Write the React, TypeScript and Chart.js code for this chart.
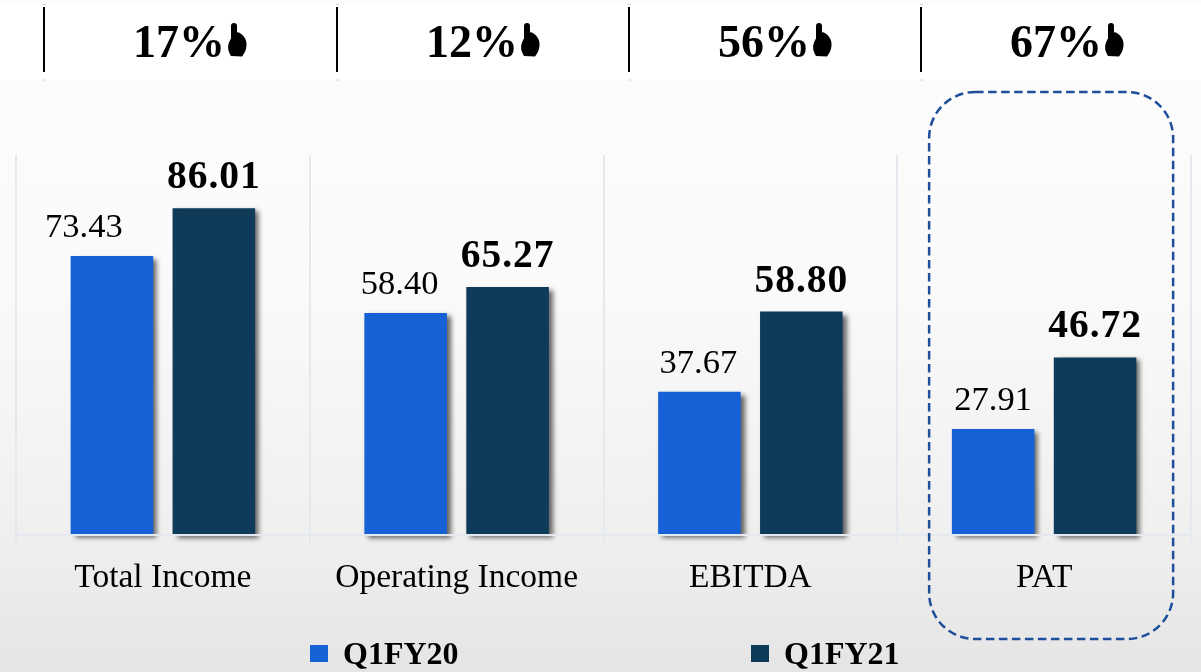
import React, { useEffect, useRef } from "react";
import { Chart, registerables } from "chart.js";

Chart.register(...registerables);

const categories = ["Total Income", "Operating Income", "EBITDA", "PAT"];
const q1fy20 = [73.43, 58.4, 37.67, 27.91];
const q1fy21 = [86.01, 65.27, 58.8, 46.72];
const growth = ["17%", "12%", "56%", "67%"];
const seriesNames = ["Q1FY20", "Q1FY21"];
const seriesColors = ["#1661d6", "#0e3b5a"];

const W = 1201;
const H = 672;
const SERIF = "'Liberation Serif', serif";
const dividerX = [44, 337, 629, 921];
const legendX = [310, 751];
const blueLabelShift = [-28, -6, -1, 0];

function drawHand(ctx: CanvasRenderingContext2D, x: number, y: number) {
  ctx.save();
  ctx.fillStyle = "#000";
  ctx.beginPath();
  ctx.roundRect(x + 4, y, 6, 20, 3);
  ctx.fill();
  ctx.beginPath();
  ctx.moveTo(x + 4, y + 33);
  ctx.bezierCurveTo(x + 1, y + 28, x - 1, y + 22, x + 5, y + 14);
  ctx.lineTo(x + 11, y + 9);
  ctx.bezierCurveTo(x + 17, y + 12, x + 20, y + 17, x + 19.5, y + 22);
  ctx.bezierCurveTo(x + 19.5, y + 27, x + 17, y + 31, x + 15, y + 33.5);
  ctx.closePath();
  ctx.fill();
  ctx.restore();
}

const backgroundPlugin = {
  id: "pageBackground",
  beforeDraw(chart: any) {
    const { ctx } = chart;
    ctx.save();
    const g = ctx.createLinearGradient(0, 80, 0, H);
    g.addColorStop(0, "#fcfcfc");
    g.addColorStop(0.35, "#fafafa");
    g.addColorStop(0.75, "#f0f0f0");
    g.addColorStop(1, "#e5e5e5");
    ctx.fillStyle = g;
    ctx.fillRect(0, 0, W, H);
    ctx.fillStyle = "#ffffff";
    ctx.fillRect(0, 4, W, 76);
    ctx.restore();
  },
};

const shadowPlugin = {
  id: "barShadow",
  beforeDatasetsDraw(chart: any) {
    const { ctx } = chart;
    ctx.save();
    ctx.shadowColor = "rgba(0,0,0,0.6)";
    ctx.shadowBlur = 5;
    ctx.shadowOffsetX = 4;
    ctx.shadowOffsetY = 3;
  },
  afterDatasetsDraw(chart: any) {
    chart.ctx.restore();
  },
};

const annotationPlugin = {
  id: "annotations",
  afterDraw(chart: any) {
    const { ctx } = chart;
    ctx.save();

    // value labels
    ctx.textAlign = "center";
    ctx.textBaseline = "alphabetic";
    ctx.fillStyle = "#000";
    chart.data.datasets.forEach((ds: any, d: number) => {
      const meta = chart.getDatasetMeta(d);
      meta.data.forEach((bar: any, i: number) => {
        if (d === 0) {
          ctx.font = `400 34.5px ${SERIF}`;
          (ctx as any).letterSpacing = "0px";
          ctx.fillText(ds.data[i].toFixed(2), bar.x + blueLabelShift[i], bar.y - 19);
        } else {
          ctx.font = `700 39.5px ${SERIF}`;
          (ctx as any).letterSpacing = "1px";
          ctx.fillText(ds.data[i].toFixed(2), bar.x, bar.y - 20);
        }
      });
    });
    (ctx as any).letterSpacing = "0px";

    // growth header
    growth.forEach((text, i) => {
      const x = dividerX[i];
      ctx.strokeStyle = "#000";
      ctx.lineWidth = 2;
      ctx.beginPath();
      ctx.moveTo(x, 7);
      ctx.lineTo(x, 72);
      ctx.stroke();
      ctx.strokeStyle = "#d0d0d0";
      ctx.lineWidth = 1;
      ctx.beginPath();
      ctx.moveTo(x - 1, 80);
      ctx.lineTo(x + 2, 80);
      ctx.moveTo(x - 1, 4.5);
      ctx.lineTo(x + 2, 4.5);
      ctx.stroke();
      ctx.font = `700 46px ${SERIF}`;
      ctx.textAlign = "left";
      ctx.fillStyle = "#000";
      ctx.fillText(text, x + 89, 57);
      drawHand(ctx, x + 183, 23);
    });

    // highlight box
    const pat = chart.scales.x.getPixelForValue(3);
    ctx.strokeStyle = "#1f4e9a";
    ctx.lineWidth = 2.5;
    ctx.setLineDash([8.5, 4.5]);
    ctx.beginPath();
    ctx.roundRect(pat - 115, 92, 244, 547, 46);
    ctx.stroke();
    ctx.setLineDash([]);

    // legend
    ctx.textAlign = "left";
    seriesNames.forEach((name, i) => {
      ctx.fillStyle = seriesColors[i];
      ctx.fillRect(legendX[i], 645, 18, 17);
      ctx.fillStyle = "#000";
      ctx.font = `700 32px ${SERIF}`;
      ctx.fillText(name, legendX[i] + 33, 664);
    });
    ctx.restore();
  },
};

export default function App() {
  const ref = useRef<HTMLCanvasElement>(null);

  useEffect(() => {
    document.body.style.margin = "0";
    document.body.style.background = "#fff";
    const chart = new Chart(ref.current!, {
      type: "bar",
      data: {
        labels: categories,
        datasets: [
          { label: seriesNames[0], data: q1fy20, backgroundColor: seriesColors[0], clip: false as any },
          { label: seriesNames[1], data: q1fy21, backgroundColor: seriesColors[1], clip: false as any },
        ],
      },
      options: {
        responsive: false,
        animation: false,
        devicePixelRatio: 1,
        layout: { padding: { left: 16, right: 10, top: 155, bottom: 0 } },
        plugins: { legend: { display: false }, tooltip: { enabled: false } },
        datasets: { bar: { categoryPercentage: 0.694, barPercentage: 0.81 } },
        scales: {
          x: {
            afterFit(scale: any) {
              scale.height = H - 535;
            },
            grid: { color: "#e4e8ef", lineWidth: 2, tickLength: 8, z: 1 },
            border: { color: "#e4e8ef", width: 2, z: 1 },
            ticks: {
              color: "#000",
              padding: 15,
              maxRotation: 0,
              font: { family: SERIF, size: 33.5 },
            },
          },
          y: { display: false, min: 0, max: 100 },
        },
      } as any,
      plugins: [backgroundPlugin, shadowPlugin, annotationPlugin],
    });
    return () => chart.destroy();
  }, []);

  return <canvas ref={ref} width={W} height={H} style={{ display: "block" }} />;
}
